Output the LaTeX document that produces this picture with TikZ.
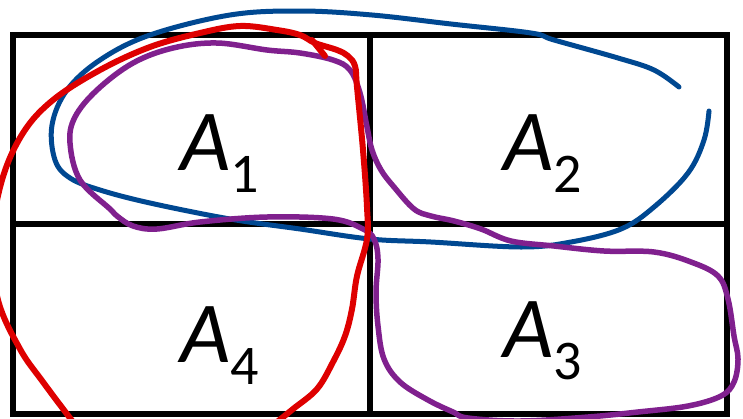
\documentclass[tikz,border=0pt]{standalone}
\usepackage{fontspec}
\setmainfont{Carlito}
\definecolor{cblue}{RGB}{0,72,145}
\definecolor{cred}{RGB}{222,0,0}
\definecolor{cpurple}{RGB}{128,32,142}
\tikzset{
  grid/.style={line width=5.5pt, line cap=rect, line join=miter, black},
  curveb/.style={line width=5pt, cblue, line cap=round, line join=round},
  curver/.style={line width=6pt, cred, line cap=round, line join=round},
  curvep/.style={line width=5.5pt, cpurple, line cap=round, line join=round},
  lab/.style={anchor=base west, inner sep=0pt, font=\fontsize{87}{87}\selectfont}
}
\newcommand{\areaname}[1]{\textit{A}\raisebox{-22pt}{\fontsize{56}{56}\selectfont #1}}
\begin{document}
\begin{tikzpicture}[x=1pt,y=-1pt]
\useasboundingbox (0,0) rectangle (743,418);
\fill[white] (0,0) rectangle (743,418);
\begin{scope}
\clip (0,0) rectangle (743,418);
% grid
\coordinate (tl) at (13,35);
\coordinate (br) at (727,414);
\coordinate (mt) at (370,35);
\coordinate (mb) at (370,414);
\coordinate (ml) at (13,224);
\coordinate (mr) at (727,224);
\draw[grid] (tl) rectangle (br);
\draw[grid] (mt) -- (mb);
\draw[grid] (ml) -- (mr);
% labels
\node[lab] (a1) at (180,170) {\areaname{1}};
\node[lab] (a2) at (503,170) {\areaname{2}};
\node[lab] (a4) at (180,362) {\areaname{4}};
\node[lab] (a3) at (503,357) {\areaname{3}};
% blue
\draw[curveb] plot[smooth, tension=0.6] coordinates {
 (679,87) (654,70) (618,58) (554,40) (531,33) (451,24) (372,15) (300,11)
 (230,15) (150,35) (100,60) (67,90) (52,125) (55,160) (70,178) (100,190)
 (150,203) (230,219) (300,229) (370,239) (431,242) (521,247) (571,242)
 (621,229) (654,207) (688,173) (704,140) (709,111)};
% purple
\draw[curvep] plot[smooth cycle, tension=0.6] coordinates {
 (110,209) (80,180) (70,143) (75,117) (97,90) (133,63) (173,48) (217,43)
 (267,50) (300,53) (333,60) (350,70) (360,93) (367,127) (372,150) (381,170)
 (394,187) (414,209) (431,216) (454,221) (481,229) (511,241) (554,246)
 (604,251) (654,252) (691,262) (718,276) (728,299) (734,336) (738,359)
 (734,382) (721,396) (688,406) (638,412) (588,417) (520,421) (468,418)
 (453,412) (428,400) (400,382) (384,359) (378,326) (376,292) (378,259)
 (374,239) (363,229) (333,219) (267,217) (200,222) (157,229) (133,226)
 (117,216)};
% red
\draw[curver] plot[smooth, tension=0.6] coordinates {
 (277,422) (293,409) (317,389) (333,362) (345,336) (352,309) (357,276)
 (367,239) (367,207) (363,150) (357,87) (355,66) (348,56) (337,50)
 (315,43) (300,35) (277,30) (240,26) (200,33) (150,47) (100,70) (53,100)
 (23,133) (2,180) (-8,240) (-2,300) (20,349) (43,382) (73,422)};
\coordinate (k1) at (312,40);
\coordinate (k2) at (325,56);
\draw[curver] (k1) -- (k2);
\end{scope}
\end{tikzpicture}
\end{document}
